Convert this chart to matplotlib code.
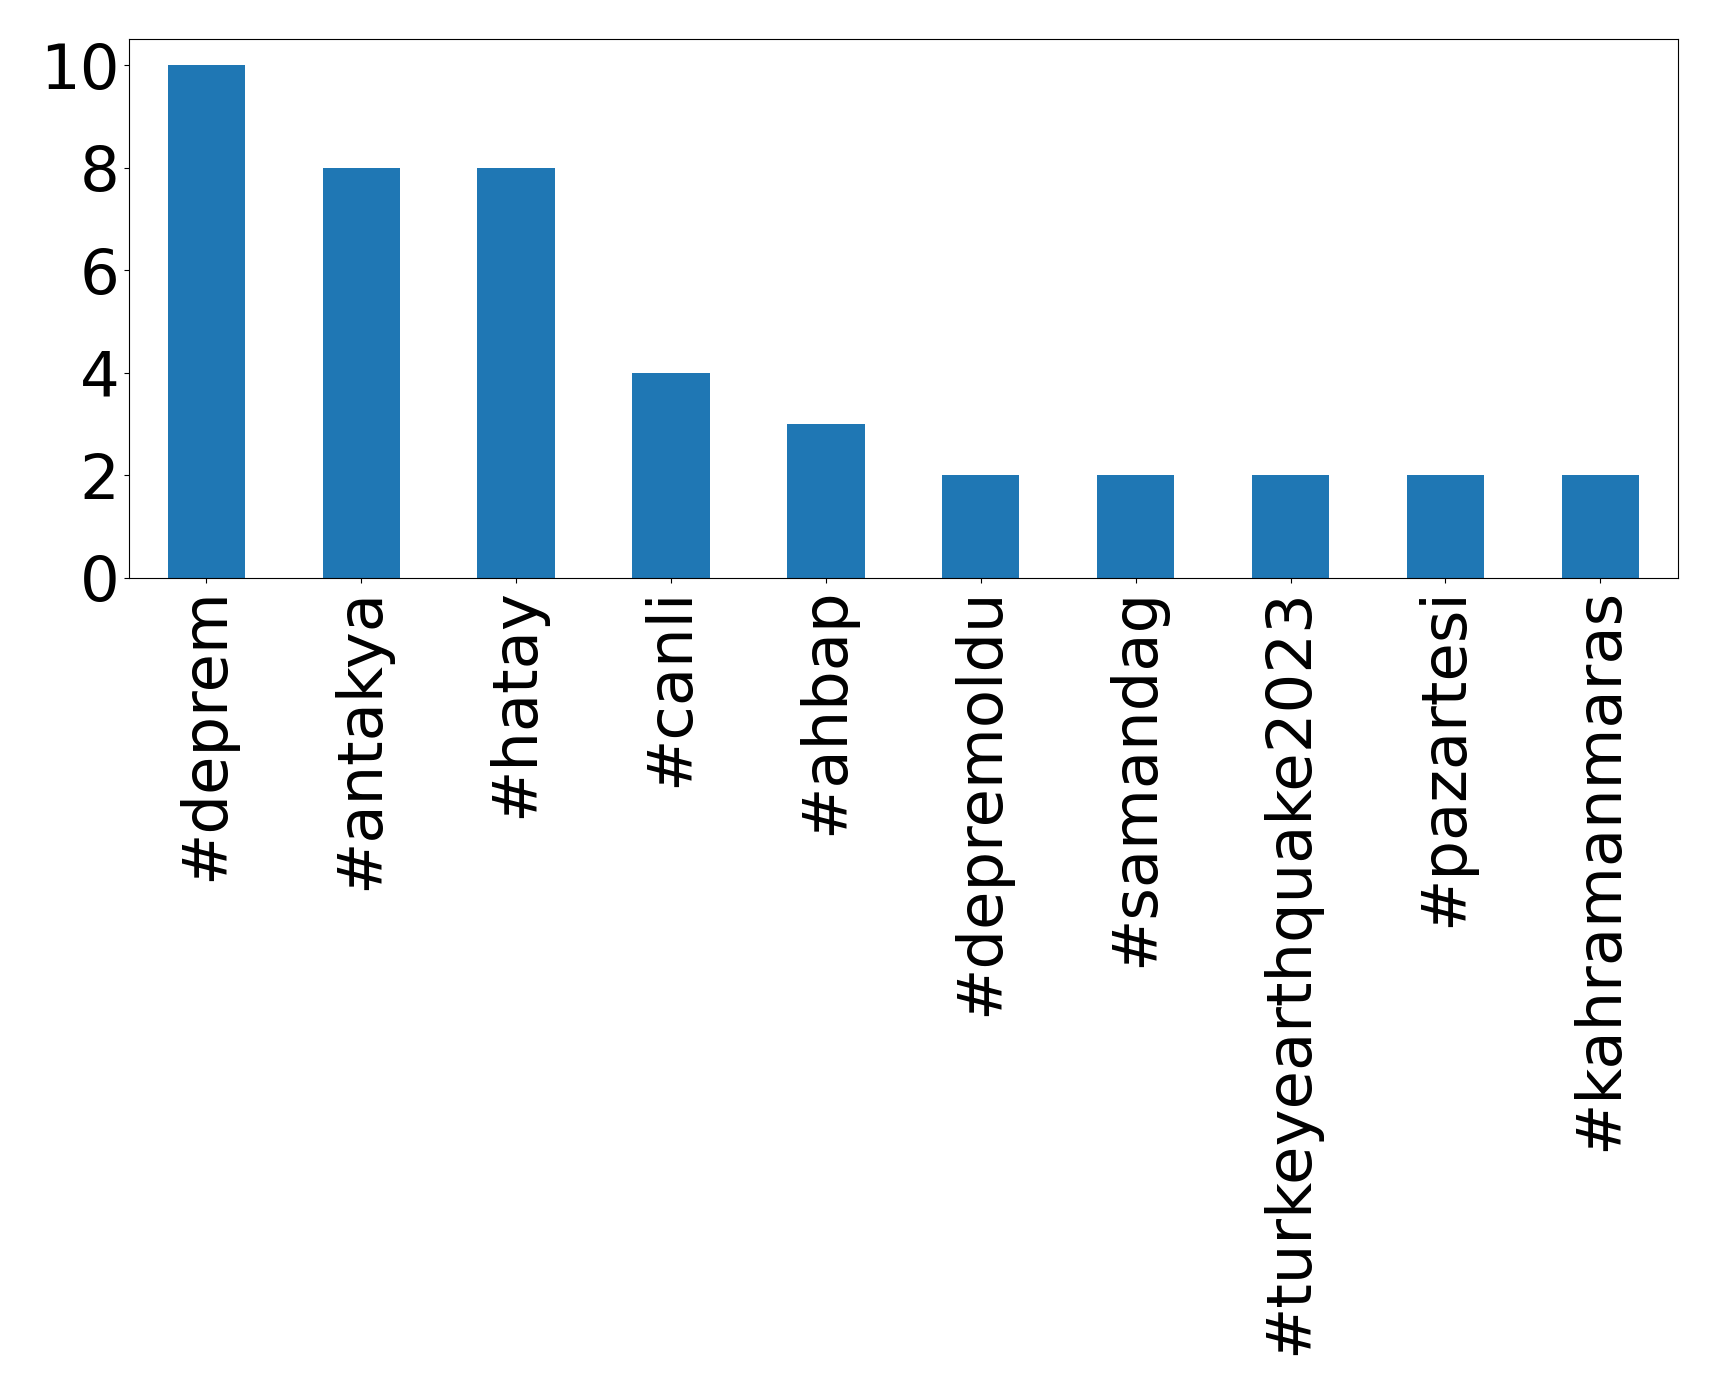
import matplotlib
matplotlib.use("Agg")
import matplotlib.pyplot as plt

categories = ["#deprem", "#antakya", "#hatay", "#canli", "#ahbap", "#depremoldu",
              "#samandag", "#turkeyearthquake2023", "#pazartesi", "#kahramanmaras"]
counts = [10, 8, 8, 4, 3, 2, 2, 2, 2, 2]

fig = plt.figure(figsize=(17.19, 13.95), dpi=100)
ax = fig.add_axes([0.075, 0.5857, 0.901, 0.386])
x = list(range(len(categories)))
ax.bar(x, counts, width=0.5, color="#1f77b4")
ax.set_xlim(-0.5, len(categories) - 0.5)
ax.set_ylim(0, 10.5)
ax.set_xticks(x)
ax.set_xticklabels(categories, rotation=90, fontsize=45)
ax.set_yticks([0, 2, 4, 6, 8, 10])
ax.tick_params(axis="y", labelsize=45)
fig.savefig("out.png", dpi=100)
